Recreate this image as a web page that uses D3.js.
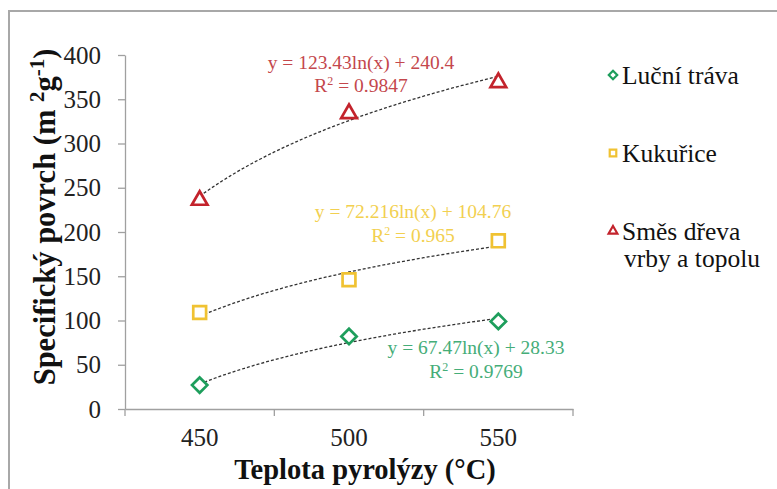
<!DOCTYPE html>
<html>
<head>
<meta charset="utf-8">
<script src="https://cdn.jsdelivr.net/npm/d3@7"></script>
<style>
  body { margin: 0; background: #fff; }
  svg { display: block; }
  svg text { font-family: "Liberation Serif", "Times New Roman", serif; }
</style>
</head>
<body>
<div id="viz"></div>
<script>
// data
var categories = ["450", "500", "550"];
var yTicks = [0, 50, 100, 150, 200, 250, 300, 350, 400];
var seriesNames = ["Luční tráva", "Kukuřice", "Směs dřeva vrby a topolu"];
var lucniTrava = [27, 82, 99];
var kukurice = [109, 146, 190];
var smesDreva = [237, 335, 370];
// log trendlines shown on the chart: y = a*ln(x) + b
var trendA = [67.47, 72.216, 123.43];
var trendB = [28.33, 104.76, 240.4];
var trendR2 = ["0.9769", "0.965", "0.9847"];

function drawChart() {
  var W = 777, H = 489;
  var svg = d3.select("#viz").append("svg").attr("width", W).attr("height", H);

  // outer frame
  svg.append("rect").attr("x", 9).attr("y", 11).attr("width", 800).attr("height", 500)
    .attr("fill", "none").attr("stroke", "#a8a8a8").attr("stroke-width", 2);

  var mLeft = 125, mRight = 573, mTop = 55, mBottom = 409;

  var x = d3.scaleBand().domain(categories).range([mLeft, mRight]).padding(0);
  var xi = d3.scaleLinear().domain([0.5, categories.length + 0.5]).range([mLeft, mRight]);
  var y = d3.scaleLinear().domain([0, 400]).range([mBottom, mTop]);

  var colors = ["#1e9e5c", "#f0c232", "#c3232c"];
  var textColors = ["#45ad78", "#f2d050", "#c4474c"];

  // y axis
  var gy = svg.append("g").attr("transform", "translate(" + mLeft + ",0)")
    .call(d3.axisLeft(y).tickValues(yTicks).tickSize(7).tickPadding(17).tickSizeOuter(0));
  gy.attr("font-family", null);
  gy.select(".domain").attr("stroke", "#a0a0a0").attr("stroke-width", 1.3);
  gy.selectAll(".tick line").attr("stroke", "#a0a0a0").attr("stroke-width", 1.3);
  gy.selectAll(".tick text").attr("font-size", 25).attr("fill", "#222");

  // x axis
  var gx = svg.append("g").attr("transform", "translate(0," + mBottom + ")")
    .call(d3.axisBottom(x).tickSize(0).tickPadding(19));
  gx.attr("font-family", null);
  gx.select(".domain").attr("stroke", "#a0a0a0").attr("stroke-width", 1.3);
  gx.selectAll(".tick text").attr("font-size", 25).attr("fill", "#222");
  gx.selectAll(".bnd").data(d3.range(categories.length + 1)).enter().append("line")
    .attr("class", "bnd")
    .attr("x1", function(d) { return xi(d + 0.5); }).attr("x2", function(d) { return xi(d + 0.5); })
    .attr("y1", 0).attr("y2", 7).attr("stroke", "#a0a0a0").attr("stroke-width", 1.3);

  // axis titles
  svg.append("text").attr("x", 365).attr("y", 479).attr("text-anchor", "middle")
    .attr("font-size", 28.5).attr("font-weight", "bold").attr("fill", "#111")
    .text("Teplota pyrolýzy (°C)");

  var yt = svg.append("text").attr("transform", "translate(55,217) rotate(-90)")
    .attr("text-anchor", "middle").attr("font-size", 30.5).attr("font-weight", "bold").attr("fill", "#111");
  yt.append("tspan").text("Specifický povrch (m ");
  yt.append("tspan").attr("font-size", 21).attr("dy", -11).text("2");
  yt.append("tspan").attr("dy", 11).text("g");
  yt.append("tspan").attr("font-size", 21).attr("dy", -11).text("-1");
  yt.append("tspan").attr("dy", 11).text(")");

  // trendlines
  var allSeries = [lucniTrava, kukurice, smesDreva];
  var line = d3.line().x(function(d) { return xi(d[0]); }).y(function(d) { return y(d[1]); });
  allSeries.forEach(function(s, k) {
    var pts = d3.range(1, 3.001, 0.05).map(function(t) { return [t, trendA[k] * Math.log(t) + trendB[k]]; });
    svg.append("path").attr("d", line(pts)).attr("fill", "none")
      .attr("stroke", "#333").attr("stroke-width", 1.3).attr("stroke-dasharray", "3,2");
  });

  // markers
  var symbols = [d3.symbolDiamond2, d3.symbolSquare2, d3.symbolTriangle2];
  var sizes = [150, 210, 175];
  allSeries.forEach(function(s, k) {
    svg.selectAll(".m" + k).data(s).enter().append("path")
      .attr("class", "m" + k)
      .attr("transform", function(d, i) {
        var cy = y(d) + (k == 2 ? 1 : 0);
        return "translate(" + (x(categories[i]) + x.bandwidth() / 2) + "," + cy + ")";
      })
      .attr("d", d3.symbol().type(symbols[k]).size(sizes[k]))
      .attr("fill", "#fff").attr("stroke", colors[k]).attr("stroke-width", 2.7);
  });

  // equation labels
  var eqPos = [[476, 354, 378], [413, 218, 242], [361, 69, 92]];
  allSeries.forEach(function(s, k) {
    svg.append("text").attr("text-anchor", "middle").attr("font-size", 19.5).attr("fill", textColors[k])
      .attr("x", eqPos[k][0]).attr("y", eqPos[k][1])
      .text("y = " + trendA[k] + "ln(x) + " + trendB[k]);
    var t2 = svg.append("text").attr("text-anchor", "middle").attr("font-size", 19.5).attr("fill", textColors[k])
      .attr("x", eqPos[k][0]).attr("y", eqPos[k][2]);
    t2.append("tspan").text("R");
    t2.append("tspan").attr("font-size", 12).attr("dy", -7).text("2");
    t2.append("tspan").attr("dy", 7).text(" = " + trendR2[k]);
  });

  // legend
  var legY = [75, 153, 231];
  seriesNames.forEach(function(name, k) {
    svg.append("path").attr("transform", "translate(613," + legY[k] + ")")
      .attr("d", d3.symbol().type(symbols[k]).size(k == 0 ? 45 : 55))
      .attr("fill", "#fff").attr("stroke", colors[k]).attr("stroke-width", 2.2);
    var words = k == 2 ? ["Směs dřeva", "vrby a topolu"] : [name];
    words.forEach(function(w, j) {
      svg.append("text").attr("x", 622 + (j ? 2 : 0)).attr("y", legY[k] + j * 27).attr("dy", "0.35em")
        .attr("font-size", 25.5).attr("fill", "#111").text(w);
    });
  });
}

drawChart();
</script>
</body>
</html>
